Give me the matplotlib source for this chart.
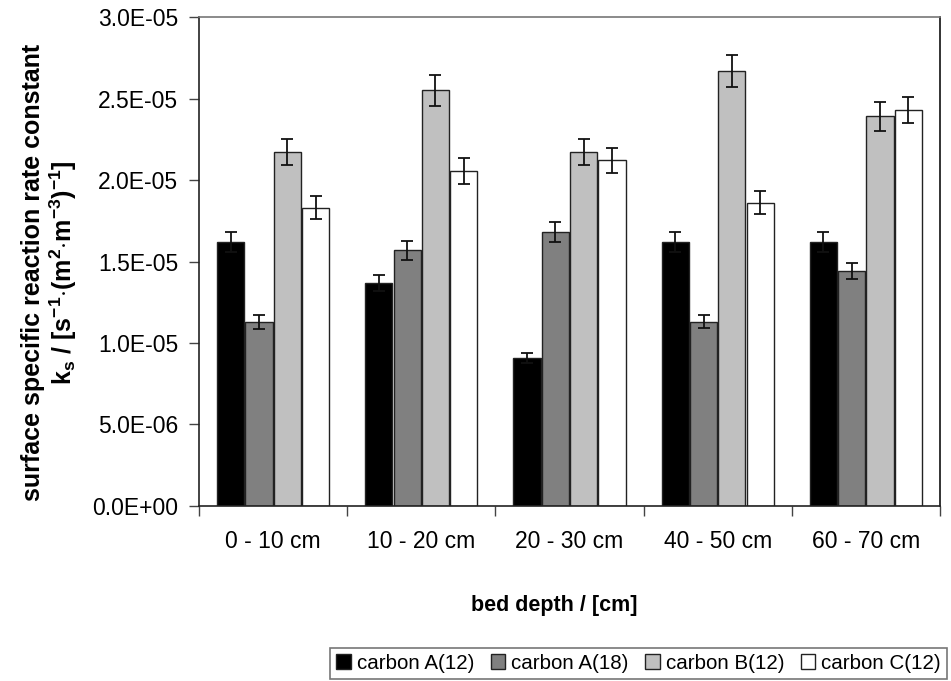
import matplotlib
matplotlib.use("Agg")
import matplotlib.pyplot as plt
import numpy as np
from matplotlib.ticker import FuncFormatter, FixedLocator

plt.rcParams['font.family'] = ['Liberation Sans', 'DejaVu Sans']
plt.rcParams['mathtext.fontset'] = 'custom'
plt.rcParams['mathtext.rm'] = 'Liberation Sans'
plt.rcParams['mathtext.bf'] = 'Liberation Sans:bold'
plt.rcParams['mathtext.it'] = 'Liberation Sans:italic'

categories = ["0 - 10 cm", "10 - 20 cm", "20 - 30 cm", "40 - 50 cm", "60 - 70 cm"]
series_names = ["carbon A(12)", "carbon A(18)", "carbon B(12)", "carbon C(12)"]
carbon_A12 = [1.62e-5, 1.37e-5, 0.91e-5, 1.62e-5, 1.62e-5]
carbon_A18 = [1.13e-5, 1.57e-5, 1.68e-5, 1.13e-5, 1.44e-5]
carbon_B12 = [2.17e-5, 2.55e-5, 2.17e-5, 2.67e-5, 2.39e-5]
carbon_C12 = [1.83e-5, 2.055e-5, 2.12e-5, 1.86e-5, 2.43e-5]
err_A12 = [0.6e-6, 0.5e-6, 0.3e-6, 0.6e-6, 0.6e-6]
err_A18 = [0.43e-6, 0.58e-6, 0.6e-6, 0.4e-6, 0.5e-6]
err_B12 = [0.8e-6, 0.95e-6, 0.8e-6, 1.0e-6, 0.88e-6]
err_C12 = [0.7e-6, 0.8e-6, 0.78e-6, 0.7e-6, 0.82e-6]

values = [carbon_A12, carbon_A18, carbon_B12, carbon_C12]
errors = [err_A12, err_A18, err_B12, err_C12]
colors = ["#000000", "#808080", "#c0c0c0", "#ffffff"]

fig = plt.figure(figsize=(9.51, 6.81), dpi=100)
ax = fig.add_axes([0.2093, 0.257, 0.7791, 0.718])

x = np.arange(len(categories))
w = 0.191
for i, (vals, errs, c, name) in enumerate(zip(values, errors, colors, series_names)):
    pos = x + (i - 1.5) * w
    ax.bar(pos, vals, width=w * 0.96, color=c, edgecolor="#222222", linewidth=1.0,
           label=name, zorder=2)
    ax.errorbar(pos, vals, yerr=errs, fmt="none", ecolor="#111111", elinewidth=1.3,
                capsize=4.2, capthick=1.3, zorder=3)

ax.set_xlim(-0.5, len(categories) - 0.5)
ax.set_ylim(0, 3.0e-5)
ax.set_yticks(np.arange(0, 3.01e-5, 0.5e-5))
ax.yaxis.set_major_formatter(FuncFormatter(lambda v, p: f"{v:.1E}"))
ax.set_xticks(x)
ax.set_xticklabels(categories)
ax.xaxis.set_minor_locator(FixedLocator(np.arange(-0.5, len(categories), 1.0)))
ax.tick_params(axis="x", which="major", length=0, pad=17, labelsize=16.5)
ax.tick_params(axis="x", which="minor", length=7, width=1.0, color="#444444", direction="out")
ax.tick_params(axis="y", length=7, width=1.0, color="#444444", direction="out", labelsize=16.5, pad=8)

for s in ["left", "bottom"]:
    ax.spines[s].set_color("#222222")
    ax.spines[s].set_linewidth(1.2)
ax.spines["top"].set_color("#777777")
ax.spines["top"].set_linewidth(1.2)
ax.spines["right"].set_color("#111111")
ax.spines["right"].set_linewidth(1.2)

fig.text(50 / 951, 0.6,
         "surface specific reaction rate constant\n"
         r"k$_\mathbf{s}$ / [s$^\mathbf{-1}$$\mathbf{\cdot}$(m$^\mathbf{2}$$\mathbf{\cdot}$m$^\mathbf{-3}$)$^\mathbf{-1}$]",
         rotation=90, ha="center", va="center", fontsize=18, fontweight="bold",
         linespacing=1.1, multialignment="center")
fig.text(554 / 951, 1 - 605 / 681, "bed depth / [cm]", ha="center", va="center",
         fontsize=15.5, fontweight="bold")

leg = fig.legend(loc="lower right", bbox_to_anchor=(0.998, 0.0), ncol=4, fontsize=14.8,
                 frameon=True, fancybox=False, edgecolor="#555555", handlelength=0.7,
                 handleheight=0.7, handletextpad=0.3, columnspacing=0.8, borderpad=0.3,
                 borderaxespad=0.1)
leg.get_frame().set_linewidth(1.2)

fig.savefig("out.png", dpi=100)
